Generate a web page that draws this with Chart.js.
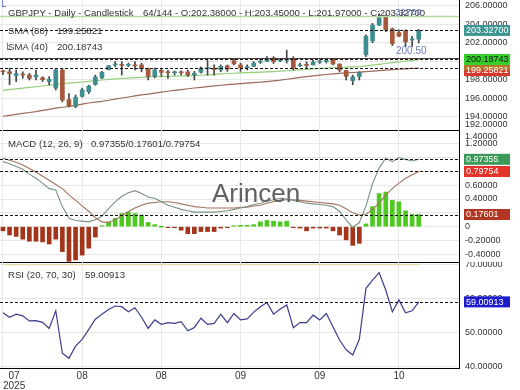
<!DOCTYPE html>
<html>
<head>
<meta charset="utf-8"/>
<title>GBPJPY - Daily - Candlestick</title>
<script src="https://cdn.jsdelivr.net/npm/chart.js@4.4.1/dist/chart.umd.min.js"></script>
<style>
  html, body { margin: 0; padding: 0; background: #fff; }
  #wrap { position: relative; width: 520px; height: 390px; overflow: hidden; font-family: "Liberation Sans", Arial, sans-serif; }
  canvas { position: absolute; left: 0; }
  .lg { position: absolute; font-size: 9.6px; line-height: 11px; color: #333; white-space: pre; z-index: 5; }
  .mark { position: absolute; width: 3px; height: 6px; border-left: 1px solid #6b78c8; border-bottom: 1px solid #6b78c8; z-index: 5; }
  #wm { position: absolute; left: 212px; top: 180px; font-size: 26px; line-height: 27px; color: #616161; z-index: 4; }
</style>
</head>
<body>
<div id="wrap">
  <canvas id="priceChart" width="520" height="131" style="top:0"></canvas>
  <canvas id="macdChart" width="520" height="133" style="top:130px"></canvas>
  <canvas id="rsiChart" width="520" height="128" style="top:262px"></canvas>

  <div class="mark" style="left:2px;top:0"></div>
  <div class="lg" style="left:8px;top:7px">GBPJPY - Daily - Candlestick</div>
  <div class="lg" style="left:143px;top:7px">64/144 - O:202.38000 - H:203.45000 - L:201.97000 - C:203.32700</div>
  <div class="lg" style="left:395px;top:6px;color:#5b68b8">32700</div>
  <div class="lg" style="left:8px;top:25px">SMA (80)</div>
  <div class="lg" style="left:57px;top:25px">199.25821</div>
  <div class="mark" style="left:7px;top:43px"></div>
  <div class="lg" style="left:8px;top:41px">SMA (40)</div>
  <div class="lg" style="left:57px;top:41px">200.18743</div>
  <div class="lg" style="left:396px;top:45px;font-size:10px;color:#6f7cc4">200.50</div>

  <div class="lg" style="left:8px;top:138px">MACD (12, 26, 9)</div>
  <div class="lg" style="left:91px;top:138px">0.97355/0.17601/0.79754</div>
  <div id="wm">Arincen</div>

  <div class="lg" style="left:8px;top:269px">RSI (20, 70, 30)</div>
  <div class="lg" style="left:85px;top:269px">59.00913</div>
</div>

<script>
// daily candles, 64 sessions (Jul - Oct 2025)
const opens  = [198.95,198.85,198.45,198.60,198.50,198.30,198.20,197.80,197.10,199.05,195.85,195.10,196.20,196.70,197.50,198.20,
                199.10,199.60,199.60,199.55,199.60,199.60,199.20,198.35,199.00,198.80,198.75,198.80,198.85,198.50,198.80,199.20,
                199.25,199.05,199.50,200.05,199.60,199.30,199.45,199.90,200.00,200.35,200.05,200.10,200.30,199.50,199.60,199.60,
                199.90,199.95,200.20,199.70,199.00,197.90,198.35,200.70,202.20,203.90,204.80,203.50,203.10,203.30,202.30,202.38];
const highs  = [199.05,199.25,199.05,198.86,198.69,199.05,198.33,198.33,199.23,199.23,196.50,196.35,197.10,197.40,198.50,198.90,
                199.55,199.95,199.95,199.80,199.95,199.80,199.25,199.25,199.25,199.05,198.95,198.95,199.05,198.90,199.40,200.10,
                199.60,199.60,199.60,200.20,199.80,199.60,199.95,200.30,200.50,200.50,200.30,201.20,200.50,199.80,199.95,200.10,
                200.15,200.30,200.30,199.70,199.00,198.50,198.85,202.85,204.10,205.15,205.00,203.60,203.40,203.40,202.70,203.45];
const lows   = [198.55,197.45,197.80,198.15,197.97,197.97,197.80,197.43,196.89,195.60,195.05,194.95,196.10,196.50,197.40,198.10,
                199.05,199.40,198.50,199.40,199.05,198.85,197.97,198.20,198.35,198.15,198.50,198.50,198.35,197.97,198.70,198.50,
                198.50,198.85,198.90,199.60,198.90,199.05,199.40,199.75,199.95,199.75,199.95,199.80,199.05,199.40,199.25,199.60,
                199.75,199.80,199.60,198.85,197.97,197.45,197.97,200.50,202.00,203.85,203.20,201.70,202.65,201.60,201.60,201.97];
const closes = [198.85,198.65,198.65,198.50,198.15,198.50,198.00,198.05,199.05,195.80,195.15,196.10,196.90,197.30,198.30,198.80,
                199.50,199.70,199.55,199.65,199.50,199.20,198.35,199.05,198.80,198.75,198.80,198.75,198.50,198.70,199.25,199.25,
                199.10,199.45,199.15,199.70,199.30,199.40,199.80,200.00,200.30,199.95,200.15,200.20,199.25,199.60,199.55,199.90,
                199.95,200.10,199.70,199.05,198.35,198.30,198.80,202.70,203.90,204.70,203.40,201.90,202.70,202.10,202.40,203.327];

const sma40 = [196.85,196.93,197.00,197.08,197.16,197.24,197.32,197.40,197.50,197.56,197.62,197.68,197.75,197.82,197.90,197.97,
               198.03,198.08,198.13,198.18,198.22,198.26,198.30,198.32,198.34,198.36,198.38,198.40,198.42,198.44,198.48,198.53,
               198.58,198.63,198.67,198.70,198.73,198.76,198.79,198.82,198.85,198.88,198.92,198.97,199.02,199.07,199.12,199.17,
               199.21,199.25,199.29,199.32,199.35,199.38,199.42,199.50,199.58,199.66,199.75,199.84,199.93,200.02,200.10,200.18743];
const sma80 = [194.05,194.15,194.25,194.35,194.45,194.55,194.68,194.80,194.92,195.02,195.10,195.22,195.35,195.48,195.58,195.66,
               195.78,195.90,196.02,196.13,196.25,196.35,196.45,196.55,196.65,196.75,196.84,196.93,197.02,197.10,197.18,197.26,
               197.33,197.40,197.46,197.52,197.58,197.63,197.68,197.73,197.80,197.88,197.95,198.05,198.15,198.25,198.33,198.41,
               198.50,198.56,198.62,198.68,198.73,198.78,198.83,198.88,198.93,198.98,199.03,199.08,199.13,199.18,199.22,199.25821];
const topLine = 204.92;     // pale green line near the top
const levelLine = 200.38;   // dark solid line above the SMA values

const macdLine = [0.94,0.91,0.87,0.83,0.76,0.70,0.63,0.55,0.53,0.29,0.12,0.09,0.08,0.07,0.10,0.15,
                  0.26,0.36,0.44,0.49,0.52,0.48,0.43,0.41,0.36,0.31,0.28,0.25,0.23,0.21,0.21,0.21,
                  0.21,0.22,0.23,0.25,0.27,0.29,0.32,0.34,0.37,0.39,0.41,0.40,0.38,0.36,0.34,0.33,
                  0.32,0.31,0.29,0.22,0.10,-0.01,0.06,0.30,0.62,0.85,0.99,0.94,1.00,0.97,0.95,0.97355];
const signalLine = [0.99,0.96,0.93,0.89,0.84,0.79,0.73,0.67,0.61,0.55,0.46,0.38,0.30,0.22,0.13,0.07,
                    0.06,0.10,0.16,0.22,0.27,0.31,0.34,0.35,0.36,0.36,0.35,0.33,0.31,0.29,0.28,0.27,
                    0.27,0.27,0.27,0.27,0.28,0.28,0.30,0.31,0.34,0.36,0.38,0.39,0.39,0.38,0.37,0.36,
                    0.35,0.34,0.33,0.31,0.26,0.20,0.17,0.18,0.25,0.34,0.46,0.55,0.63,0.70,0.75,0.79754];
const macdHist = [-0.06,-0.12,-0.14,-0.18,-0.21,-0.21,-0.22,-0.25,-0.18,-0.36,-0.50,-0.48,-0.41,-0.31,-0.15,0.01,
                  0.07,0.12,0.19,0.21,0.19,0.17,0.06,0.03,0.00,-0.01,-0.01,-0.05,-0.10,-0.10,-0.07,-0.07,
                  -0.07,-0.02,-0.01,0.01,0.02,0.02,0.03,0.07,0.09,0.08,0.07,0.08,-0.01,-0.02,-0.06,-0.02,
                  -0.02,-0.02,-0.06,-0.12,-0.19,-0.27,-0.24,0.04,0.29,0.48,0.50,0.38,0.36,0.23,0.18,0.17601];

const rsiLine = [55.8,54.5,55.4,54.9,53.4,53.5,53.0,51.2,56.4,43.9,42.4,46.0,48.0,50.9,53.9,55.4,
                 56.8,57.8,57.6,56.1,57.3,54.5,51.2,53.7,52.4,52.9,52.7,53.2,50.5,51.5,54.2,52.4,
                 52.7,55.4,52.9,55.6,53.7,54.0,56.0,57.6,58.8,55.4,56.9,58.1,51.4,52.9,52.9,55.1,
                 53.7,55.6,51.7,47.8,44.9,43.4,48.0,63.0,65.4,67.6,62.5,56.1,59.6,55.8,56.4,59.00913];
const rsiOverbought = 70;
const rsiLevelX = [0, 63];

const xTickPos = [0, 12, 24, 36, 48, 60, 69];
const xTickLabels = [['  07', '2025'], '08', '08', '09', '09', '10', ''];
const priceTicks = [192, 194, 196, 198, 200, 202, 204, 206];
const macdTicks = [-0.4, -0.2, 0, 0.2, 0.4, 0.6, 0.8, 1.0, 1.2, 1.4];
const rsiTicks = [40, 50, 60, 70];

// visible window
const xMin = -0.45, xMax = 69.1;

const family = '"Liberation Sans", Arial, sans-serif';
Chart.defaults.font.family = family;
const fmt = v => v === 0 ? '0' : v.toFixed(5);
const idx = closes.map((_, i) => i);
const pts = arr => arr.map((v, i) => ({ x: i, y: v }));
const gridColor = '#e8e8e8';

function noPad(s) {
  s.paddingTop = 0; s.paddingBottom = 0; s.paddingLeft = 0; s.paddingRight = 0;
}

function xAxis(showLabels) {
  return {
    type: 'linear', min: xMin, max: xMax, offset: false,
    afterBuildTicks: s => { s.ticks = xTickPos.map(v => ({ value: v })); },
    afterFit: s => { s.height = showLabels ? 22 : 0; noPad(s); },
    ticks: { display: showLabels, autoSkip: false, maxRotation: 0, align: 'inner', padding: 3,
             color: '#333', font: { size: 10, lineHeight: 1.0 }, callback: (v, i) => xTickLabels[i] },
    grid: { offset: false, color: c => (c.tick && c.tick.value > 63) ? 'rgba(0,0,0,0)' : gridColor, drawTicks: false },
    border: { display: true, color: '#000' }
  };
}

function yAxis(min, max, values, pad) {
  return {
    type: 'linear', position: 'right', min, max,
    afterBuildTicks: s => {
      s.ticks = values.map(v => {
        let p = v, clamped = false;
        if (v < min) { p = min + pad; clamped = true; }
        if (v > max) { p = max - pad; clamped = true; }
        return { value: p, text: fmt(v), clamped };
      });
    },
    afterFit: s => { s.width = 61; noPad(s); },
    ticks: { autoSkip: false, padding: 6, color: '#333', font: { size: 9 },
             callback: (v, i, t) => t[i].text },
    grid: { color: c => (c.tick && c.tick.clamped) ? 'rgba(0,0,0,0)' : gridColor, drawTicks: false },
    border: { display: true, color: '#000' }
  };
}

// reference lines across the plot and value boxes on the axis
const refPlugin = {
  id: 'refs',
  afterDatasetsDraw(chart, args, opts) {
    const { ctx, chartArea: a } = chart;
    const y = chart.scales.y;
    ctx.save();
    (opts.lines || []).forEach(l => {
      const py = Math.round(y.getPixelForValue(l.value)) + 0.5;
      ctx.strokeStyle = l.color;
      ctx.lineWidth = l.width || 1;
      ctx.setLineDash(l.dash || []);
      ctx.beginPath();
      ctx.moveTo(a.left, py);
      ctx.lineTo(a.right, py);
      ctx.stroke();
    });
    ctx.restore();
  },
  afterDraw(chart, args, opts) {
    const { ctx, chartArea: a } = chart;
    const y = chart.scales.y;
    const h = 11;
    const boxes = (opts.boxes || []).map(b => Object.assign({ py: y.getPixelForValue(b.value) }, b))
                                    .sort((p, q) => p.py - q.py);
    let last = -1e9;
    ctx.save();
    ctx.font = '9px ' + family;
    ctx.textBaseline = 'middle';
    boxes.forEach(b => {
      let top = b.py - h / 2;
      if (top < last) top = last;
      last = top + h;
      const x = a.right + 5, w = 46;
      ctx.fillStyle = b.bg;
      ctx.fillRect(x, top, w, h);
      if (b.bg2) { ctx.fillStyle = b.bg2; ctx.fillRect(x, top + h / 2, w, h / 2); }
      ctx.fillStyle = b.fg;
      ctx.fillText(fmt(b.value), x + 2, top + h / 2 + 0.5);
    });
    ctx.restore();
  }
};

const dashed = v => ({ value: v, color: '#111', dash: [3, 2] });
const last = arr => arr[arr.length - 1];
const bull = '#3f8d8f', bear = '#a5593a';

const baseOpts = (bottomPad) => ({
  responsive: false,
  animation: false,
  devicePixelRatio: 1,
  layout: { autoPadding: false, padding: { left: 0, right: 0, top: 0, bottom: bottomPad } }
});

// price panel
new Chart(document.getElementById('priceChart'), {
  type: 'bar',
  data: {
    datasets: [
      { type: 'line', data: pts(sma80), borderColor: '#9c6a5c', borderWidth: 1.2, pointRadius: 0, order: 4 },
      { type: 'line', data: pts(sma40), borderColor: '#93cf78', borderWidth: 1.2, pointRadius: 0, order: 4 },
      { data: idx.map(i => ({ x: i, y: [lows[i], highs[i]] })), barThickness: 1, grouped: false,
        backgroundColor: '#444', order: 3 },
      { data: idx.map(i => ({ x: i, y: [opens[i], closes[i]] })), barThickness: 4, grouped: false, minBarLength: 1,
        backgroundColor: c => closes[c.dataIndex] >= opens[c.dataIndex] ? bull : bear, order: 2 }
    ]
  },
  options: Object.assign(baseOpts(1), {
    scales: { x: xAxis(false), y: yAxis(192.56, 206.62, priceTicks, 0.54) },
    plugins: {
      legend: { display: false }, tooltip: { enabled: false },
      refs: {
        lines: [
          { value: topLine, color: '#b5dca0', width: 1.5 },
          { value: levelLine, color: '#4d3c3c', width: 1 },
          dashed(last(closes)), dashed(last(sma40)), dashed(last(sma80))
        ],
        boxes: [
          { value: last(closes), bg: '#3f9592', fg: '#fff' },
          { value: last(sma40), bg: '#36d02c', fg: '#111' },
          { value: last(sma80), bg: '#b8742e', bg2: '#d9392b', fg: '#fff' }
        ]
      }
    }
  }),
  plugins: [refPlugin]
});

// MACD panel
new Chart(document.getElementById('macdChart'), {
  type: 'bar',
  data: {
    datasets: [
      { type: 'line', data: pts(macdLine), borderColor: '#7a9282', borderWidth: 1.1, pointRadius: 0, order: 1 },
      { type: 'line', data: pts(signalLine), borderColor: '#a2735e', borderWidth: 1.1, pointRadius: 0, order: 1 },
      { data: pts(macdHist), barThickness: 4, minBarLength: 1,
        backgroundColor: c => macdHist[c.dataIndex] >= 0 ? '#4ec91f' : '#a3351b', order: 3 }
    ]
  },
  options: Object.assign(baseOpts(1), {
    scales: { x: xAxis(false), y: yAxis(-0.51, 1.397, macdTicks, 0.087) },
    plugins: {
      legend: { display: false }, tooltip: { enabled: false },
      refs: {
        lines: [dashed(last(macdLine)), dashed(last(signalLine)), dashed(last(macdHist))],
        boxes: [
          { value: last(macdLine), bg: '#3b9a5a', fg: '#fff' },
          { value: last(signalLine), bg: '#e3332a', fg: '#fff' },
          { value: last(macdHist), bg: '#b13723', fg: '#fff' }
        ]
      }
    }
  }),
  plugins: [refPlugin]
});

// RSI panel
new Chart(document.getElementById('rsiChart'), {
  type: 'line',
  data: {
    datasets: [
      { data: rsiLevelX.map(x => ({ x, y: rsiOverbought })), borderColor: '#e4dba4', borderWidth: 1.6, pointRadius: 0, order: 2 },
      { data: pts(rsiLine), borderColor: '#3d3d8e', borderWidth: 1.2, pointRadius: 0, order: 1 }
    ]
  },
  options: Object.assign(baseOpts(0), {
    scales: { x: xAxis(true), y: yAxis(39.56, 70.74, rsiTicks, 1.5) },
    plugins: {
      legend: { display: false }, tooltip: { enabled: false },
      refs: {
        lines: [dashed(last(rsiLine))],
        boxes: [{ value: last(rsiLine), bg: '#1c1ccc', fg: '#fff' }]
      }
    }
  }),
  plugins: [refPlugin]
});
</script>
</body>
</html>
